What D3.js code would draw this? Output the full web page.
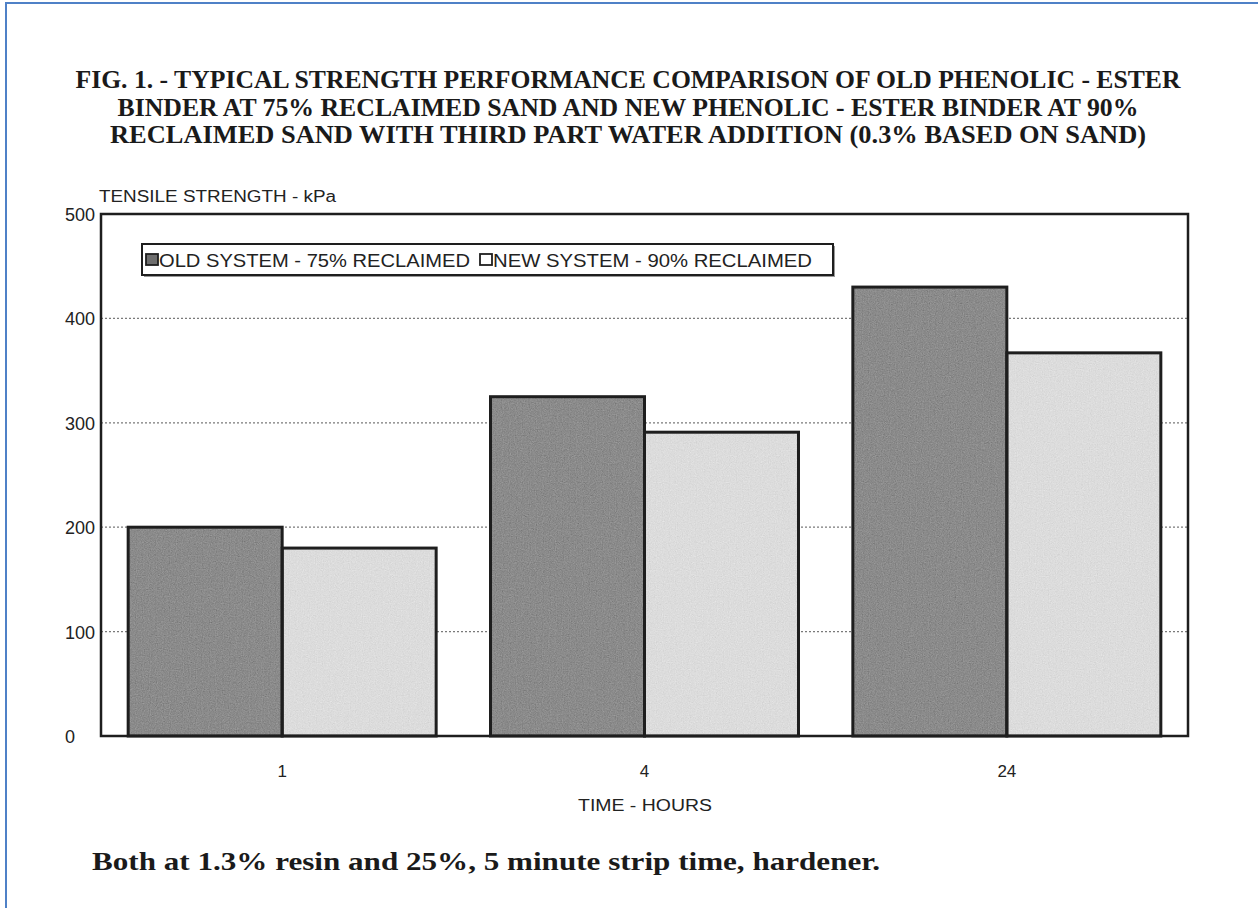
<!DOCTYPE html>
<html>
<head>
<meta charset="utf-8">
<script src="https://cdn.jsdelivr.net/npm/d3@7"></script>
<style>
  html, body { margin: 0; padding: 0; background: #ffffff; }
  svg { display: block; }
</style>
</head>
<body>
<script>
// ---------------- data ----------------
const categories = ["1", "4", "24"];
const seriesNames = ["OLD SYSTEM - 75% RECLAIMED", "NEW SYSTEM - 90% RECLAIMED"];
const oldSystem = [200, 325, 430];
const newSystem = [180, 291, 367];
const yTicks = [0, 100, 200, 300, 400, 500];
const titleLines = [
  "FIG. 1. - TYPICAL STRENGTH PERFORMANCE COMPARISON OF OLD PHENOLIC - ESTER",
  "BINDER AT 75% RECLAIMED SAND AND NEW PHENOLIC - ESTER BINDER AT 90%",
  "RECLAIMED SAND WITH THIRD PART WATER ADDITION (0.3% BASED ON SAND)"
];
const yAxisTitle = "TENSILE STRENGTH - kPa";
const xAxisTitle = "TIME - HOURS";
const footnote = "Both at 1.3% resin and 25%, 5 minute strip time, hardener.";

// ---------------- layout ----------------
const W = 1258, H = 908;
const plot = { left: 101, right: 1188, top: 214, bottom: 736 };
const colors = ["#8b8b8b", "#dcdcdc"];

const svg = d3.select("body").append("svg").attr("width", W).attr("height", H);

// grain filter to mimic scanned texture
const defs = svg.append("defs");
const f = defs.append("filter").attr("id", "grain").attr("x", 0).attr("y", 0).attr("width", 1).attr("height", 1);
f.append("feTurbulence").attr("type", "fractalNoise").attr("baseFrequency", 0.85).attr("numOctaves", 2).attr("seed", 3).attr("result", "noise");
f.append("feColorMatrix").attr("in", "noise").attr("type", "matrix")
  .attr("values", "0.33 0.33 0.33 0 0  0.33 0.33 0.33 0 0  0.33 0.33 0.33 0 0  0 0 0 0 1").attr("result", "gray");
f.append("feComposite").attr("in", "SourceGraphic").attr("in2", "gray").attr("operator", "arithmetic")
  .attr("k1", 0).attr("k2", 1).attr("k3", 0.32).attr("k4", -0.16).attr("result", "mix");
f.append("feComposite").attr("in", "mix").attr("in2", "SourceGraphic").attr("operator", "in");

// outer blue frame (extends beyond right/bottom edge)
svg.append("rect").attr("x", 6).attr("y", 3).attr("width", W + 20).attr("height", H + 20)
  .attr("fill", "none").attr("stroke", "#4f81c7").attr("stroke-width", 2);

// title
const titleWidths = [1105, 1021, 1036];
const titleBase = [88, 116, 143];
titleLines.forEach((t, i) => {
  svg.append("text").attr("x", 628).attr("y", titleBase[i]).attr("text-anchor", "middle")
    .attr("font-family", "'Liberation Serif', 'Times New Roman', serif").attr("font-weight", "bold")
    .attr("font-size", 25).attr("fill", "#1a1a1a")
    .attr("textLength", titleWidths[i]).attr("lengthAdjust", "spacingAndGlyphs")
    .text(t);
});

// scales
const x0 = d3.scaleBand().domain(categories).range([plot.left, plot.right]).paddingInner(0).paddingOuter(0);
const bw = x0.bandwidth();
const x1 = d3.scaleBand().domain(seriesNames).range([bw * 0.075, bw * 0.925]).padding(0);
const y = d3.scaleLinear().domain([0, 500]).range([plot.bottom, plot.top]);

// gridlines
svg.append("g").selectAll("line").data(yTicks.filter(d => d > 0 && d < 500)).join("line")
  .attr("x1", plot.left).attr("x2", plot.right)
  .attr("y1", d => y(d)).attr("y2", d => y(d))
  .attr("stroke", "#7a7a7a").attr("stroke-width", 1.2).attr("stroke-dasharray", "2,2");

// bars
const rows = categories.map((c, i) => ({ cat: c, vals: [oldSystem[i], newSystem[i]] }));
const g = svg.append("g");
rows.forEach(r => {
  r.vals.forEach((v, j) => {
    const bx = x0(r.cat) + x1(seriesNames[j]);
    g.append("rect").attr("x", bx).attr("y", y(v)).attr("width", x1.bandwidth()).attr("height", y(0) - y(v))
      .attr("fill", colors[j]).attr("filter", "url(#grain)");
  });
});
rows.forEach(r => {
  r.vals.forEach((v, j) => {
    const bx = x0(r.cat) + x1(seriesNames[j]);
    g.append("rect").attr("x", bx).attr("y", y(v)).attr("width", x1.bandwidth()).attr("height", y(0) - y(v))
      .attr("fill", "none").attr("stroke", "#1e1e1e").attr("stroke-width", 3);
  });
});

// plot border
svg.append("rect").attr("x", plot.left).attr("y", plot.top)
  .attr("width", plot.right - plot.left).attr("height", plot.bottom - plot.top)
  .attr("fill", "none").attr("stroke", "#1e1e1e").attr("stroke-width", 2.5);

// y axis tick labels (left aligned as in the scan)
const yAxis = d3.axisLeft(y).tickValues(yTicks).tickSize(0).tickPadding(0);
const ya = svg.append("g").attr("transform", `translate(65,0)`).call(yAxis);
ya.select(".domain").remove();
ya.selectAll("text").attr("text-anchor", "start").attr("x", 0).attr("dy", "0.36em")
  .attr("font-family", "'Liberation Sans', Arial, sans-serif").attr("font-size", 18).attr("fill", "#222");

// x axis tick labels
const xAxis = d3.axisBottom(x0).tickSize(0).tickPadding(0);
const xa = svg.append("g").attr("transform", `translate(0,${plot.bottom})`).call(xAxis);
xa.select(".domain").remove();
xa.selectAll("text").attr("y", 41).attr("dy", 0)
  .attr("font-family", "'Liberation Sans', Arial, sans-serif").attr("font-size", 17).attr("fill", "#222");

// axis titles
svg.append("text").attr("x", 99).attr("y", 202)
  .attr("font-family", "'Liberation Sans', Arial, sans-serif").attr("font-size", 16).attr("fill", "#222")
  .attr("textLength", 237).attr("lengthAdjust", "spacingAndGlyphs").text(yAxisTitle);
svg.append("text").attr("x", 645).attr("y", 811).attr("text-anchor", "middle")
  .attr("font-family", "'Liberation Sans', Arial, sans-serif").attr("font-size", 16).attr("fill", "#222")
  .attr("textLength", 134).attr("lengthAdjust", "spacingAndGlyphs").text(xAxisTitle);

// legend
const leg = svg.append("g");
leg.append("rect").attr("x", 144).attr("y", 246).attr("width", 691).attr("height", 31).attr("fill", "#999");
leg.append("rect").attr("x", 142).attr("y", 244).attr("width", 691).attr("height", 31)
  .attr("fill", "#ffffff").attr("stroke", "#1e1e1e").attr("stroke-width", 2);
const legItems = [
  { sw: 146, tx: 159, tw: 311 },
  { sw: 480, tx: 493, tw: 319 }
];
seriesNames.forEach((s, j) => {
  leg.append("rect").attr("x", legItems[j].sw).attr("y", 254).attr("width", 12).attr("height", 11)
    .attr("fill", j === 0 ? "#6e6e6e" : "#ffffff").attr("stroke", "#1e1e1e").attr("stroke-width", 1.8);
  leg.append("text").attr("x", legItems[j].tx).attr("y", 267)
    .attr("font-family", "'Liberation Sans', Arial, sans-serif").attr("font-size", 18).attr("fill", "#222")
    .attr("textLength", legItems[j].tw).attr("lengthAdjust", "spacingAndGlyphs").text(s);
});

// footnote
svg.append("text").attr("x", 92).attr("y", 870)
  .attr("font-family", "'Liberation Serif', 'Times New Roman', serif").attr("font-weight", "bold")
  .attr("font-size", 26).attr("fill", "#1a1a1a")
  .attr("textLength", 788).attr("lengthAdjust", "spacingAndGlyphs").text(footnote);
</script>
</body>
</html>
